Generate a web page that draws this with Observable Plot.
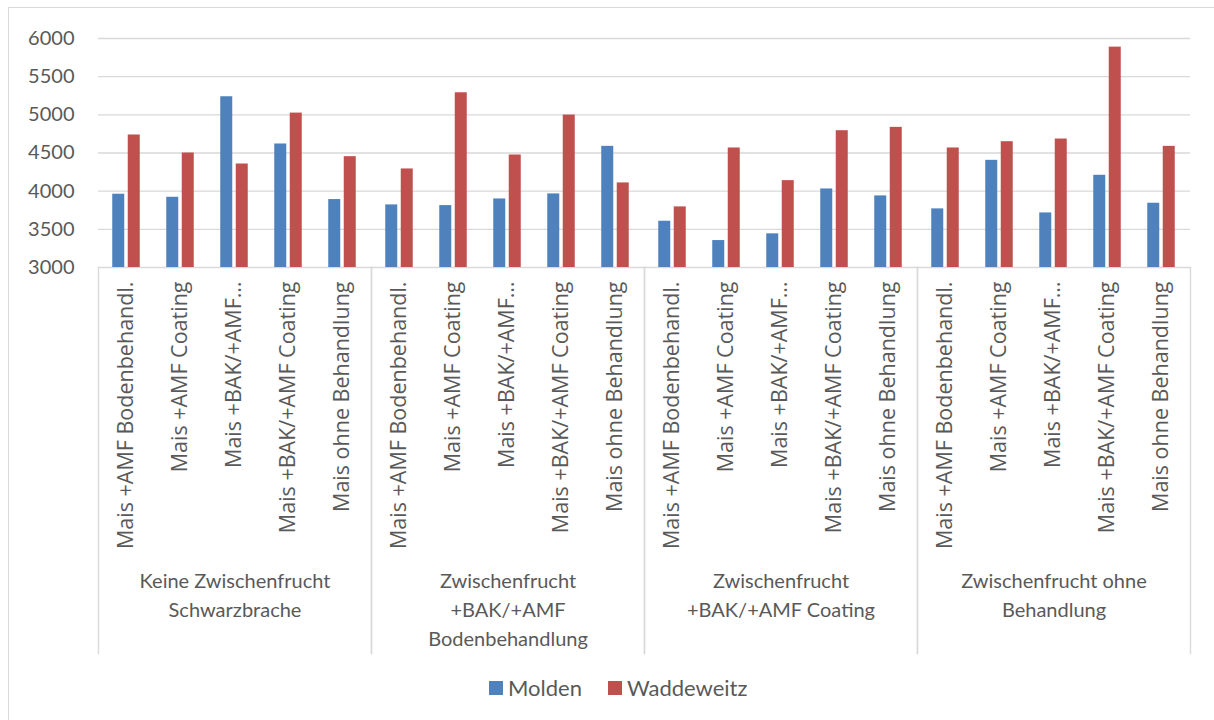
<!DOCTYPE html>
<html>
<head>
<meta charset="utf-8">
<script src="https://cdn.jsdelivr.net/npm/d3@7"></script>
<script src="https://cdn.jsdelivr.net/npm/@observablehq/plot@0.6"></script>
<style>
  body { margin: 0; background: #fff; }
  #wrap { position: relative; width: 1214px; height: 720px; overflow: hidden; background: #fff; }
  #border { position: absolute; left: 8px; top: 7px; width: 1400px; height: 900px; border: 1.5px solid #D9D9D9; box-sizing: border-box; }
  #chart { position: absolute; left: 0; top: 0; }
  #legend { position: absolute; left: 489px; top: 674px; display: flex; align-items: center; font-family: Lato, sans-serif; font-size: 22px; color: #595959; }
  .sw { width: 14px; height: 14px; display: inline-block; margin-right: 5px; }
  .item { display: flex; align-items: center; margin-right: 26px; }
</style>
</head>
<body>
<div id="wrap">
  <div id="border"></div>
  <div id="chart"></div>
  <div id="legend"></div>
</div>
<script>
const groups = [
  "Keine Zwischenfrucht Schwarzbrache",
  "Zwischenfrucht +BAK/+AMF Bodenbehandlung",
  "Zwischenfrucht +BAK/+AMF Coating",
  "Zwischenfrucht ohne Behandlung"
];
const groupLabels = [
  "Keine Zwischenfrucht\nSchwarzbrache",
  "Zwischenfrucht\n+BAK/+AMF\nBodenbehandlung",
  "Zwischenfrucht\n+BAK/+AMF Coating",
  "Zwischenfrucht ohne\nBehandlung"
];
const categories = [
  "Mais +AMF Bodenbehandl.",
  "Mais +AMF Coating",
  "Mais +BAK/+AMF…",
  "Mais +BAK/+AMF Coating",
  "Mais ohne Behandlung"
];
const series = ["Molden", "Waddeweitz"];
const colors = ["#4F81BD", "#C0504D"];
const molden = [3960, 3920, 5237, 4618, 3890,  3820, 3811, 3898, 3964, 4587,  3606, 3353, 3441, 4029, 3938,  3768, 4404, 3715, 4208, 3842];
const waddeweitz = [4736, 4500, 4356, 5023, 4452,  4291, 5289, 4474, 4997, 4108,  3794, 4566, 4138, 4792, 4836,  4566, 4648, 4683, 5887, 4587];
const yTicks = [3000, 3500, 4000, 4500, 5000, 5500, 6000];

const values = [molden, waddeweitz];
const data = [];
groups.forEach((g, gi) => categories.forEach((c, ci) => series.forEach((s, si) => {
  data.push({group: g, category: c, series: s, value: values[si][gi * categories.length + ci]});
})));
const labelRows = [];
groups.forEach(g => categories.forEach(c => labelRows.push({group: g, category: c})));

// layout
const W = 1214, H = 660;
const plotTop = 38, plotBottom = 267, axisBottom = 653, plotLeft = 97, plotRight = 1190;
const yMin = yTicks[0], yMax = yTicks[yTicks.length - 1];
const textColor = "#595959", gridColor = "#D9D9D9";
const barOffset = 7.75;

const chart = Plot.plot({
  width: W,
  height: H,
  marginTop: plotTop,
  marginBottom: H - axisBottom,
  marginLeft: plotLeft,
  marginRight: W - plotRight,
  style: {fontFamily: "Lato, sans-serif", color: textColor, background: "transparent"},
  fx: {domain: groups, padding: 0, axis: null},
  x: {domain: categories, paddingInner: 0.775, paddingOuter: 0.3875, axis: null},
  y: {domain: [yMin, yMax], range: [plotBottom, plotTop], axis: null},
  marks: [
    Plot.ruleY(yTicks, {stroke: gridColor, strokeWidth: 1.4}),
    Plot.frame({anchor: "left", insetTop: plotBottom - plotTop, stroke: gridColor, strokeWidth: 1.4}),
    Plot.frame({anchor: "right", insetTop: plotBottom - plotTop, stroke: gridColor, strokeWidth: 1.4}),
    ...series.map((s, si) => Plot.barY(data.filter(d => d.series === s), {
      fx: "group", x: "category", y1: () => yMin, y2: "value",
      fill: colors[si], dx: si === 0 ? -barOffset : barOffset
    })),
    Plot.axisY(yTicks, {tickSize: 0, tickPadding: 24, fontSize: 20, fill: textColor, label: null, tickFormat: d => String(d)}),
    Plot.text(labelRows, {
      fx: "group", x: "category", y: () => yMin, text: "category",
      rotate: -90, textAnchor: "end", dy: 14, fontSize: 21.5,
      fontFamily: "'Open Sans', sans-serif", fill: textColor
    }),
    Plot.text(groups, {
      fx: d => d, y: () => yMin, text: (d, i) => groupLabels[i],
      lineAnchor: "top", dy: 300, fontSize: 20, lineHeight: 1.45, fill: textColor
    })
  ]
});
document.getElementById("chart").appendChild(chart);

const legend = document.getElementById("legend");
series.forEach((s, i) => {
  const it = document.createElement("div");
  it.className = "item";
  it.innerHTML = `<span class="sw" style="background:${colors[i]}"></span><span>${s}</span>`;
  legend.appendChild(it);
});
</script>
</body>
</html>
